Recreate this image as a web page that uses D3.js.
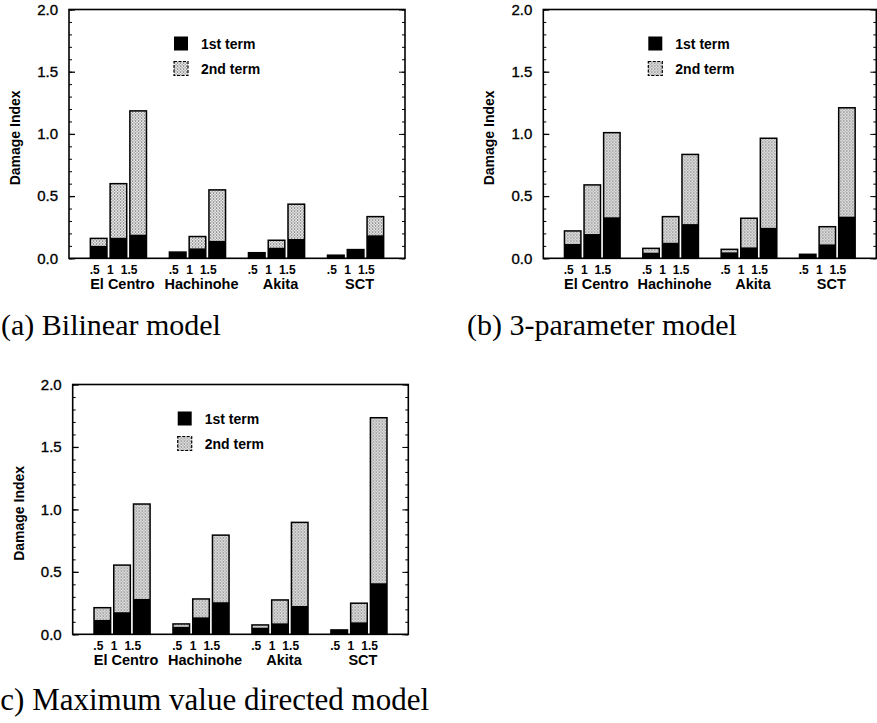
<!DOCTYPE html>
<html>
<head>
<meta charset="utf-8">
<script src="https://cdn.jsdelivr.net/npm/d3@7"></script>
<style>
  body { margin: 0; background: #fff; }
  svg { display: block; }
  .tick text { font-family: "Liberation Sans", Arial, sans-serif; }
</style>
</head>
<body>
<script>
// ground motions and intensity levels
var groups = ["El Centro", "Hachinohe", "Akita", "SCT"];
var levels = [".5", "1", "1.5"];
var legendNames = ["1st term", "2nd term"];
var yTicks = [0, 0.5, 1.0, 1.5, 2.0];

// damage index, 1st term / 2nd term, ordered group by group (.5, 1, 1.5)
var firstA  = [0.10, 0.165, 0.19,  0.05, 0.08, 0.14,  0.045, 0.085, 0.155,  0.025, 0.07, 0.185];
var secondA = [0.06, 0.435, 0.995, 0.0,  0.095, 0.41, 0.0,   0.06,  0.28,   0.0,   0.0,  0.15];

var firstB  = [0.115, 0.195, 0.33,  0.045, 0.125, 0.275,  0.048, 0.088, 0.245,  0.032, 0.112, 0.335];
var secondB = [0.105, 0.395, 0.68,  0.035, 0.21,  0.56,   0.024, 0.234, 0.72,   0.0,   0.142, 0.875];

var firstC  = [0.115, 0.177, 0.283,  0.06,  0.136, 0.257,  0.053, 0.088, 0.227,  0.035, 0.096, 0.409];
var secondC = [0.098, 0.377, 0.76,   0.023, 0.147, 0.537,  0.022, 0.187, 0.669,  0.0,   0.153, 1.325];

var captions = ["(a) Bilinear model", "(b) 3-parameter model", "(c) Maximum value directed model"];

var svg = d3.select("body").append("svg")
    .attr("width", 877)
    .attr("height", 723);

// stipple used for the 2nd term
var pat = svg.append("defs").append("pattern")
    .attr("id", "stip")
    .attr("patternUnits", "userSpaceOnUse")
    .attr("width", 3)
    .attr("height", 3);
pat.append("rect").attr("width", 3).attr("height", 3).attr("fill", "#fff");
pat.append("rect").attr("x", 0).attr("y", 0).attr("width", 1.2).attr("height", 1.2).attr("fill", "#4a4a4a");
pat.append("rect").attr("x", 1.5).attr("y", 1.5).attr("width", 1.2).attr("height", 1.2).attr("fill", "#4a4a4a");

var sans = '"Liberation Sans", Arial, Helvetica, sans-serif';
var serif = '"Liberation Serif", "Times New Roman", serif';

// panel frames
var panels = [
  {left: 69,    top: 9.5,   w: 336,   h: 248.8, first: firstA, second: secondA, cap: captions[0], capX: 1,   capY: 335, capSize: 30},
  {left: 543.3, top: 9.5,   w: 333,   h: 248.8, first: firstB, second: secondB, cap: captions[1], capX: 467, capY: 335, capSize: 30},
  {left: 72.7,  top: 384.5, w: 335.6, h: 249.8, first: firstC, second: secondC, cap: captions[2], capX: -10, capY: 710, capSize: 31}
];

panels.forEach(drawPanel);

function drawPanel(p) {
  var g = svg.append("g")
      .attr("transform", "translate(" + p.left + "," + p.top + ")");

  var x = d3.scaleLinear().domain([0, 17]).range([0, p.w]);
  var y = d3.scaleLinear().domain([0, 2]).range([p.h, 0]);
  var bw = x(0.84) - x(0);

  var rows = [];
  groups.forEach(function(grp, gi) {
    levels.forEach(function(lv, li) {
      rows.push({grp: grp, lv: lv, li: li, pos: 1.5 + 4 * gi + li,
                 a: p.first[gi * 3 + li], b: p.second[gi * 3 + li]});
    });
  });

  // minor and major ticks, left and right, pointing inward
  var minor = d3.range(0, 2.001, 0.1);
  g.append("g").call(d3.axisLeft(y).tickValues(minor).tickSize(-3).tickFormat(""))
    .call(function(s) { s.select(".domain").remove(); });
  g.append("g").attr("transform", "translate(" + p.w + ",0)")
    .call(d3.axisRight(y).tickValues(minor).tickSize(-3).tickFormat(""))
    .call(function(s) { s.select(".domain").remove(); });
  g.append("g").attr("transform", "translate(" + p.w + ",0)")
    .call(d3.axisRight(y).tickValues(yTicks).tickSize(-6).tickFormat(""))
    .call(function(s) { s.select(".domain").remove(); });

  var yAxis = g.append("g")
    .call(d3.axisLeft(y).tickValues(yTicks).tickSize(-6).tickPadding(11).tickFormat(d3.format(".1f")));
  yAxis.select(".domain").remove();
  yAxis.selectAll(".tick line").attr("stroke-width", 1.3);
  yAxis.selectAll(".tick text")
    .style("font-size", "15px")
    .attr("fill", "#000")
    .attr("stroke", "#000")
    .attr("stroke-width", 0.35);

  // stacked bars
  var bar = g.selectAll(".bar").data(rows).join("g").attr("class", "bar");
  bar.append("rect")
    .attr("x", function(d) { return x(d.pos) - bw / 2; })
    .attr("y", function(d) { return y(d.a + d.b); })
    .attr("width", bw)
    .attr("height", function(d) { return y(d.a) - y(d.a + d.b); })
    .attr("fill", "url(#stip)");
  bar.append("rect")
    .attr("x", function(d) { return x(d.pos) - bw / 2; })
    .attr("y", function(d) { return y(d.a); })
    .attr("width", bw)
    .attr("height", function(d) { return y(0) - y(d.a); })
    .attr("fill", "#000");
  bar.append("rect")
    .attr("x", function(d) { return x(d.pos) - bw / 2; })
    .attr("y", function(d) { return y(d.a + d.b); })
    .attr("width", bw)
    .attr("height", function(d) { return y(0) - y(d.a + d.b); })
    .attr("fill", "none")
    .attr("stroke", "#000")
    .attr("stroke-width", 1.5);

  // frame
  g.append("rect")
    .attr("width", p.w)
    .attr("height", p.h)
    .attr("fill", "none")
    .attr("stroke", "#000")
    .attr("stroke-width", 1.6);

  // level labels under each bar
  var shift = [-4, -8, -9];
  g.selectAll(".lvl").data(rows).join("text")
    .attr("class", "lvl")
    .attr("x", function(d) { return x(d.pos) + shift[d.li]; })
    .attr("y", p.h + 16)
    .attr("text-anchor", "middle")
    .style("font-family", sans)
    .style("font-size", "12px")
    .style("font-weight", "bold")
    .text(function(d) { return d.lv; });

  // group labels
  g.selectAll(".grp").data(groups).join("text")
    .attr("class", "grp")
    .attr("x", function(d, i) { return x(2.5 + 4 * i) + 4; })
    .attr("y", p.h + 31)
    .attr("text-anchor", "middle")
    .style("font-family", sans)
    .style("font-size", "14.5px")
    .style("font-weight", "bold")
    .text(function(d) { return d; });

  // y label
  g.append("text")
    .attr("transform", "translate(-49," + (p.h / 2 + 4) + ") rotate(-90)")
    .attr("text-anchor", "middle")
    .style("font-family", sans)
    .style("font-size", "14px")
    .style("font-weight", "bold")
    .text("Damage Index");

  // legend
  var leg = g.selectAll(".leg").data(legendNames).join("g")
    .attr("class", "leg")
    .attr("transform", function(d, i) { return "translate(105," + (34 + 25 * i) + ")"; });
  leg.append("rect")
    .attr("x", 0)
    .attr("y", -7)
    .attr("width", 14)
    .attr("height", 14)
    .attr("fill", function(d, i) { return i === 0 ? "#000" : "url(#stip)"; })
    .attr("stroke", "#000")
    .attr("stroke-width", function(d, i) { return i === 0 ? 0 : 1.2; })
    .attr("stroke-dasharray", function(d, i) { return i === 0 ? null : "3,1.5"; });
  leg.append("text")
    .attr("x", 27)
    .attr("y", 5)
    .style("font-family", sans)
    .style("font-size", "14px")
    .style("font-weight", "bold")
    .text(function(d) { return d; });

  // caption
  svg.append("text")
    .attr("x", p.capX)
    .attr("y", p.capY)
    .style("font-family", serif)
    .style("font-size", p.capSize + "px")
    .text(p.cap);
}
</script>
</body>
</html>
